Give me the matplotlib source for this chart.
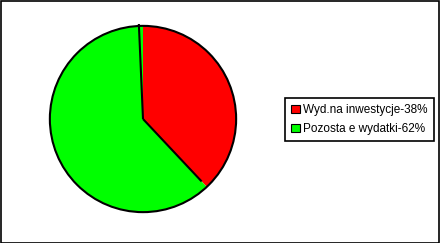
import numpy as np
import matplotlib.pyplot as plt
from matplotlib.patches import Patch, Rectangle, Circle

labels = ["Wyd.na inwestycje-38%", "Pozosta e wydatki-62%"]
values = [38, 62]
colors = ["#ff0000", "#00ff00"]

W, H = 440, 243
fig = plt.figure(figsize=(W / 100, H / 100), dpi=100)
plt.rcParams["font.family"] = ["Liberation Sans", "DejaVu Sans"]

# pie area: centre (143,119), radius 95 px
cx, cy, r = 143, 119, 95
ax = fig.add_axes([(cx - r) / W, (H - cy - r) / H, 2 * r / W, 2 * r / H])
ax.pie(values, colors=colors, startangle=90, counterclock=False, radius=1,
       wedgeprops=dict(linewidth=0))
ax.add_patch(Circle((0, 0), 1, fill=False, edgecolor="black", linewidth=1.5))

# separator lines between slices
bounds = 90 - 360 * np.cumsum([0] + values[:-1]) / sum(values)
reach = [1.08, 0.92]
for a, rr in zip(bounds, reach):
    t = np.deg2rad(a + 2.5 if rr > 1 else a)
    ax.plot([0, rr * np.cos(t)], [0, rr * np.sin(t)], color="black", linewidth=1.5,
            solid_capstyle="butt")
ax.set_xlim(-1.02, 1.02)
ax.set_ylim(-1.02, 1.02)
ax.set_aspect("equal")
ax.axis("off")

handles = [Patch(facecolor=c, edgecolor="black", linewidth=0.8) for c in colors]
leg = fig.legend(handles, labels, loc="center",
                 bbox_to_anchor=(359.5 / W, 1 - 119.5 / H), fontsize=8.5,
                 frameon=True, fancybox=False, framealpha=1, edgecolor="black",
                 handlelength=0.7, handleheight=0.7, handletextpad=0.3,
                 borderpad=0.5, labelspacing=0.6, borderaxespad=0)
leg.get_frame().set_linewidth(1.2)

# outer border of the image
fig.add_artist(Rectangle((0.5 / W, 0.5 / H), 1 - 2 / W, 1 - 1.5 / H,
                         transform=fig.transFigure, fill=False,
                         edgecolor="black", linewidth=1.2))

plt.savefig("out.png", dpi=100)
